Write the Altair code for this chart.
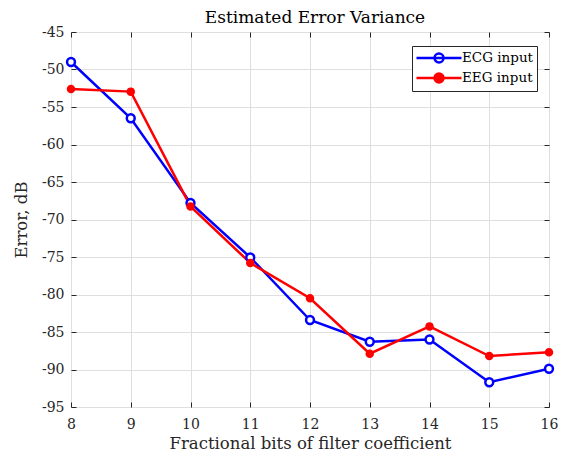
import altair as alt
import pandas as pd

bits = [8, 9, 10, 11, 12, 13, 14, 15, 16]
ecg = [-49.0, -56.5, -67.8, -75.05, -83.4, -86.3, -86.0, -91.7, -89.9]
eeg = [-52.6, -52.95, -68.25, -75.8, -80.5, -87.9, -84.25, -88.2, -87.7]
series = ["ECG input", "EEG input"]
colors = ["#0000ff", "#ff0000"]
fills = ["#ffffff", "#ff0000"]
xticks = [8, 9, 10, 11, 12, 13, 14, 15, 16]
yticks = [-95, -90, -85, -80, -75, -70, -65, -60, -55, -50, -45]

df = pd.DataFrame({
    "bits": bits * 2,
    "err": ecg + eeg,
    "series": [series[0]] * len(bits) + [series[1]] * len(bits),
})

FONT = "DejaVu Serif"
AX = "#262626"
GRID = "#dfdfdf"
W, H = 478, 375

xscale = alt.Scale(domain=[8, 16], nice=False, zero=False)
yscale = alt.Scale(domain=[-95, -45], nice=False, zero=False)

# unit path scaled by sqrt(size)/2 = 7.5 px: line 0..45 px, circle r 4.5 px
legend_path = ("M-1,0L5,0M2.6,0A0.6,0.6,0,1,1,1.4,0"
               "A0.6,0.6,0,1,1,2.6,0")
legend = alt.Legend(
    title=None, orient="none", legendX=341, legendY=14,
    symbolType=legend_path, symbolSize=225, symbolStrokeWidth=2.5,
    labelFont=FONT, labelFontSize=13.5, labelColor="black",
    strokeColor=AX, fillColor="white", padding=3, rowPadding=0,
    labelOffset=29, cornerRadius=0,
)

color = alt.Color("series:N", scale=alt.Scale(domain=series, range=colors),
                  legend=legend)
fill = alt.Fill("series:N", scale=alt.Scale(domain=series, range=fills),
                legend=legend)

lab_x = alt.Axis(values=xticks, orient="bottom", grid=True, gridColor=GRID,
                 ticks=False, tickSize=0, domain=False, labelPadding=10,
                 labelFlush=False,
                 labelFont=FONT, labelFontSize=14, labelColor=AX,
                 title="Fractional bits of filter coefficient",
                 titleFont=FONT, titleFontSize=16.5, titleFontWeight="normal",
                 titleColor=AX, titlePadding=4)
lab_y = alt.Axis(values=yticks, orient="left", grid=True, gridColor=GRID,
                 ticks=False, tickSize=0, domain=False, labelPadding=7,
                 labelFlush=False,
                 labelExpr="'' + datum.value",
                 labelFont=FONT, labelFontSize=14, labelColor=AX,
                 title="Error, dB", titleFont=FONT, titleFontSize=16.5,
                 titleFontWeight="normal", titleColor=AX, titlePadding=12)


def tick_axis(values, orient):
    return alt.Axis(values=values, orient=orient, grid=False, labels=False,
                    domain=False, ticks=True, tickSize=5, tickColor=AX,
                    tickWidth=1, offset=-5, title=None)


base = alt.Chart(df)

lines = base.mark_line(strokeWidth=2.5).encode(
    x=alt.X("bits:Q", scale=xscale, axis=lab_x),
    y=alt.Y("err:Q", scale=yscale, axis=lab_y),
    color=color,
)

pts_open = base.transform_filter(
    alt.datum.series == series[0]
).mark_point(filled=False, strokeWidth=2.5, opacity=1, size=62).encode(
    x=alt.X("bits:Q", scale=xscale, axis=tick_axis(xticks, "bottom")),
    y=alt.Y("err:Q", scale=yscale, axis=tick_axis(yticks, "left")),
    color=color,
    fill=fill,
)

pts_fill = base.transform_filter(
    alt.datum.series == series[1]
).mark_point(filled=False, strokeWidth=2.5, opacity=1, size=36).encode(
    x=alt.X("bits:Q", scale=xscale, axis=None),
    y=alt.Y("err:Q", scale=yscale, axis=None),
    color=color,
    fill=fill,
)

ghost = base.mark_line(opacity=0).encode(
    x=alt.X("bits:Q", scale=xscale, axis=tick_axis(xticks, "top")),
    y=alt.Y("err:Q", scale=yscale, axis=tick_axis(yticks, "right")),
)

chart = alt.layer(ghost, lines, pts_open, pts_fill).resolve_axis(
    x="independent", y="independent"
).properties(
    width=W, height=H,
    autosize=alt.AutoSizeParams(type="none"),
    padding={"left": 63, "top": 24, "right": 14, "bottom": 44},
    title=alt.TitleParams("Estimated Error Variance", font=FONT, fontSize=17,
                          fontWeight="normal", color="black",
                          anchor="middle", offset=10, dy=12, dx=5),
).configure_view(stroke=AX, strokeWidth=1).configure(background="white")

chart.save("out.html", embed_options={"renderer": "svg", "actions": False})
